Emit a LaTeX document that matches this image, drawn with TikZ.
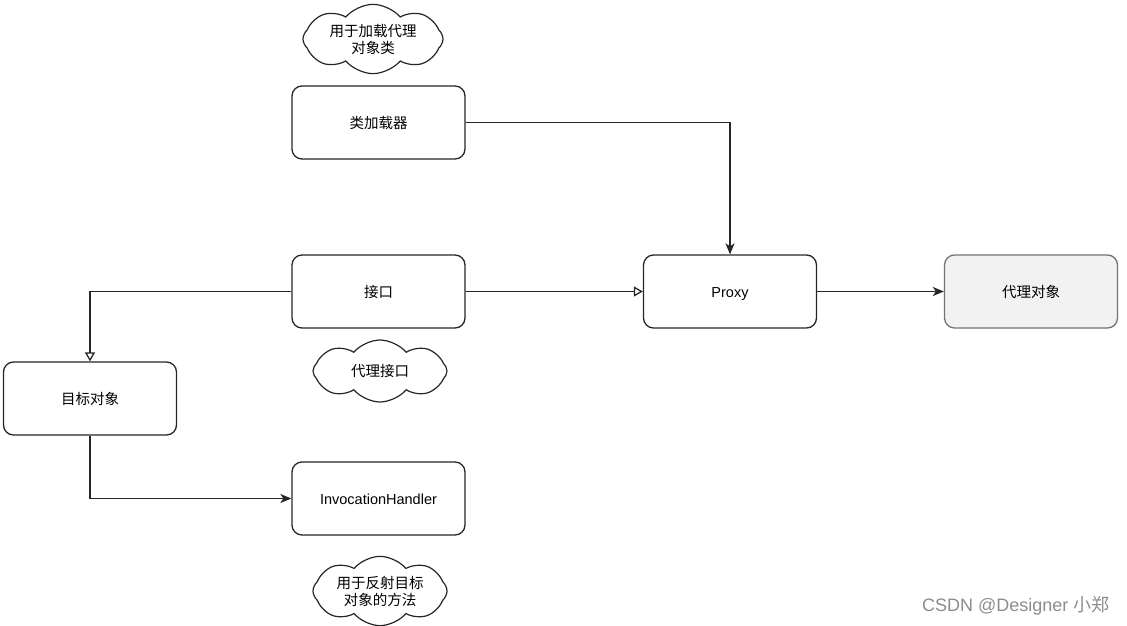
\documentclass[tikz,border=0pt]{standalone}
\usepackage{fontspec}
\setmainfont{Liberation Sans}
\newfontfamily\cjk{Noto Sans CJK SC}
\usetikzlibrary{arrows.meta,shapes.symbols}
\tikzset{
  box/.style={draw=black!85, line width=1.3pt, rounded corners=10pt, minimum width=173pt, minimum height=73pt, font=\fontsize{14.5}{16}\selectfont, inner sep=0pt, text height=12.5pt, text depth=0.5pt},
  graybox/.style={box, draw=black!55, fill=black!5},
  cloudnote/.style={draw=black!85, line width=1.2pt, cloud, cloud puffs=8, cloud puff arc=100, aspect=2.4, minimum width=140pt, minimum height=58pt, font=\cjk\fontsize{14.5}{17}\selectfont, align=center, inner sep=0pt},
  conn/.style={line width=1.3pt, draw=black!85},
  fillarrow/.style={conn, -{Stealth[length=11pt,width=9pt,inset=3pt]}},
  openarrow/.style={conn, -{Triangle[open,length=9pt,width=10pt]}},
}
\begin{document}
\begin{tikzpicture}[x=1pt,y=-1pt]
\useasboundingbox (0,0) rectangle (1127,626);
\node[box] (loader) at (378.5,122.5) {\cjk 类加载器};
\node[box] (iface) at (378.5,291.5) {\cjk 接口};
\node[box] (proxy) at (730,291.5) {Proxy};
\node[graybox] (pobj) at (1031,291.5) {\cjk 代理对象};
\node[box] (target) at (90,398.5) {\cjk 目标对象};
\node[box] (handler) at (378.5,498.5) {InvocationHandler};
\node[cloudnote] (c1) at (373,39) {用于加载代理\\对象类};
\node[cloudnote, minimum width=134pt, minimum height=62pt] (c2) at (380,371) {代理接口};
\node[cloudnote, minimum width=134pt] (c3) at (380,591) {用于反射目标\\对象的方法};
\draw[fillarrow] (loader.east) -| (proxy.north);
\draw[openarrow] (iface.east) -- (proxy.west);
\draw[fillarrow] (proxy.east) -- (pobj.west);
\draw[openarrow] (iface.west) -| (target.north);
\draw[fillarrow] (target.south) |- (handler.west);
\node[text=black!45, font=\fontsize{18}{20}\selectfont, anchor=east] (wm) at (1113,606) {CSDN @Designer {\cjk 小郑}};
\end{tikzpicture}
\end{document}
